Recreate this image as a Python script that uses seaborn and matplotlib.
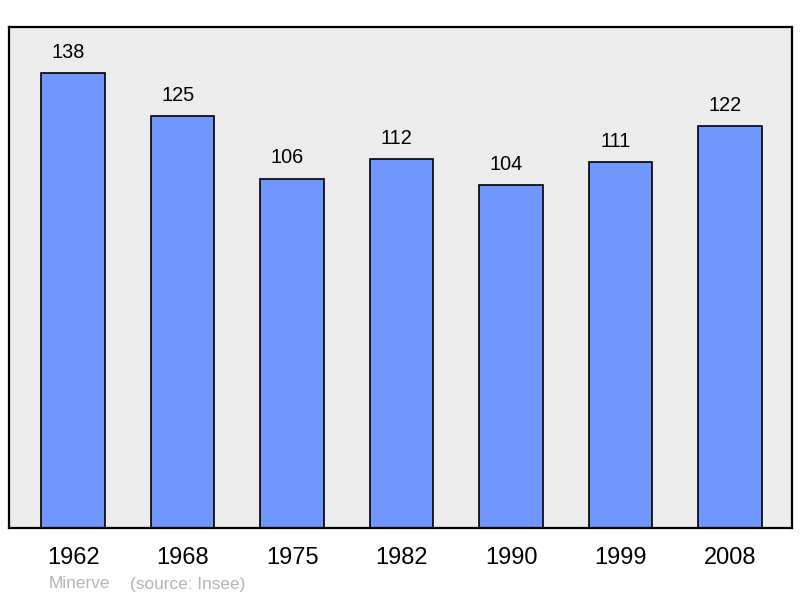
import pandas as pd
import seaborn as sns
import matplotlib.pyplot as plt

years = ["1962", "1968", "1975", "1982", "1990", "1999", "2008"]
population = [138, 125, 106, 112, 104, 111, 122]
commune = "Minerve"
source = "(source: Insee)"

df = pd.DataFrame({"year": years, "population": population})

sns.set_style("white")
plt.rcParams['font.family'] = ['Liberation Sans', 'DejaVu Sans']
plt.rcParams['text.color'] = 'black'

fig = plt.figure(figsize=(8, 5.98), dpi=100)
ax = fig.add_axes([9 / 800, 70 / 598, 783 / 800, 501 / 598])
ax.set_facecolor("#ececec")

sns.barplot(x="year", y="population", data=df, color="#7096ff", width=0.58,
            edgecolor="black", linewidth=1.2, saturation=1, ax=ax)

for i, v in enumerate(population):
    ax.text(i - 0.045, v + 3.4, str(v), ha="center", va="bottom",
            fontsize=14.3, color="black")

ax.set_xlim(-0.585, 6.565)
ax.set_ylim(0, 152)
ax.set_yticks([])
ax.set_xlabel("")
ax.set_ylabel("")
ax.tick_params(axis="x", length=0, pad=13.5, labelsize=17, labelcolor="black")
for s in ax.spines.values():
    s.set_visible(True)
    s.set_color("black")
    s.set_linewidth(1.6)

fig.text(49 / 800, 1 - 584 / 598, commune, color="#b4b4b4", fontsize=12.4, va="center")
fig.text(130 / 800, 1 - 584 / 598, source, color="#b4b4b4", fontsize=12.4, va="center")

fig.savefig("out.png", dpi=100)
